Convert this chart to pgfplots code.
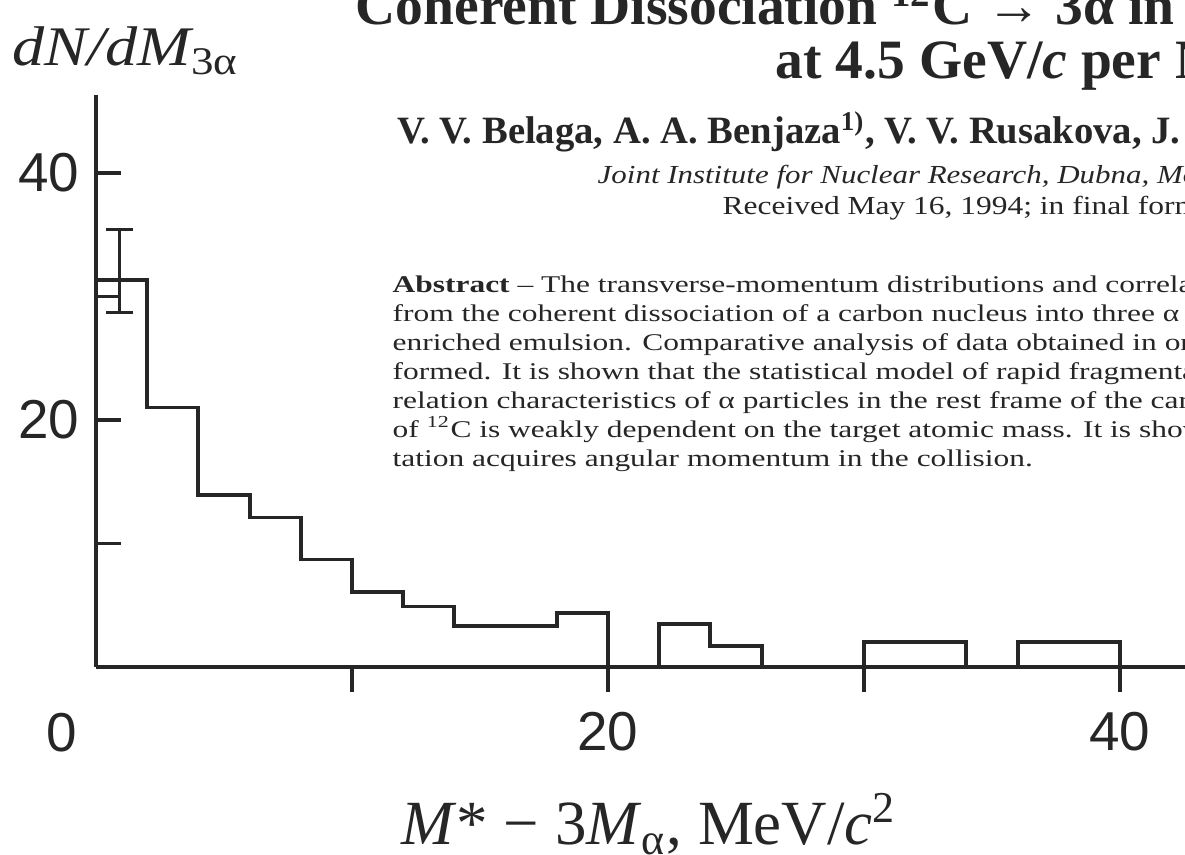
\documentclass[border=0pt]{standalone}
\usepackage{fontspec}
\usepackage{pgfplots}
\pgfplotsset{compat=1.18}

\setmainfont{Liberation Serif}
\newfontfamily\ticksfont{Liberation Sans}
\newfontfamily\ylabfont{Liberation Serif}[FakeStretch=1.15]
\newfontfamily\affilfont{Liberation Serif}[FakeStretch=1.19]
\newfontfamily\recvfont{Liberation Serif}[FakeStretch=1.21]
\newfontfamily\absfont{Liberation Serif}[FakeStretch=1.31]

\definecolor{ink}{gray}{0.15}

\begin{document}
\begin{tikzpicture}
\useasboundingbox (0,0) rectangle (118.5mm,-85.5mm);
\clip (0,0) rectangle (118.5mm,-85.5mm);
\fill[white] (0,0) rectangle (118.5mm,-85.5mm);

% paper header printed over the figure (positions in 0.1 mm units, y downwards)
\begin{scope}[x=0.1mm,y=-0.1mm,every node/.style={inner sep=0pt,anchor=base west,text=ink}]
\node at (355,25) {\fontsize{15.8}{17}\selectfont\bfseries Coherent Dissociation \textsuperscript{12}C → 3α in Lead-Enriched Emulsion};
\node at (775,79) {\fontsize{15.8}{17}\selectfont\bfseries at 4.5 GeV/\textit{c} per Nucleon};
\node at (397,144) {\fontsize{11}{12}\selectfont\bfseries V. V. Belaga, A. A. Benjaza\textsuperscript{1)}, V. V. Rusakova, J. Salomov, G. M. Chernov};
\node at (597,184) {\affilfont\fontsize{7.4}{9}\selectfont\itshape Joint Institute for Nuclear Research, Dubna, Moscow oblast, 141980 Russia};
\node at (722,215) {\recvfont\fontsize{7.4}{9}\selectfont Received May 16, 1994; in final form, December 21, 1994};
\node at (392,293) {\absfont\fontsize{6.83}{8}\selectfont\textbf{Abstract} – The transverse-momentum distributions and correlations of α particles};
\node at (392,322) {\absfont\fontsize{6.83}{8}\selectfont from the coherent dissociation of a carbon nucleus into three α particles in lead-};
\node at (392,351) {\absfont\fontsize{6.83}{8}\selectfont enriched emulsion. Comparative analysis of data obtained in ordinary emulsion is per-};
\node at (392,380) {\absfont\fontsize{6.83}{8}\selectfont formed. It is shown that the statistical model of rapid fragmentation describes the cor-};
\node at (392,409) {\absfont\fontsize{6.83}{8}\selectfont relation characteristics of α particles in the rest frame of the carbon nucleus. The excitation};
\node at (392,438) {\absfont\fontsize{6.83}{8}\selectfont of \textsuperscript{12}C is weakly dependent on the target atomic mass. It is shown that the exci-};
\node at (392,467) {\absfont\fontsize{6.83}{8}\selectfont tation acquires angular momentum in the collision.};
\end{scope}

% x axis with the histogram
\begin{axis}[
  at={(9.6mm,-66.7mm)}, anchor=south west,
  scale only axis, width=108.9mm, height=57.2mm,
  xmin=0, xmax=42.54, ymin=0, ymax=46.3,
  axis x line*=bottom, axis y line=none,
  every outer x axis line/.append style={-},
  axis line style={-, line width=1.1pt, ink},
  tick align=outside, major tick length=2.5mm,
  tick style={line width=1pt, ink},
  xtick={10,20,30,40}, xticklabels={,20,,40},
  extra x ticks={0}, extra x tick labels={0},
  extra x tick style={major tick length=0pt, xticklabel style={xshift=-3.4mm, yshift=-2.6mm}},
  xticklabel style={font=\ticksfont\fontsize{15.6}{18}\selectfont, text=ink, anchor=north, inner sep=0pt, yshift=-2.0mm},
  xlabel={\fontsize{17.9}{20}\selectfont\textit{M}* − 3\textit{M}\textsubscript{α}, MeV/\textit{c}\textsuperscript{2}},
  every axis x label/.style={at={(axis cs:11.9,-14.4)}, anchor=base west, inner sep=0pt, text=ink},
  clip=false,
]
% histogram, bins of 2 MeV/c^2
\addplot[const plot, line width=1.1pt, ink] coordinates {
  (0,31.3) (2,21.0) (4,13.9) (6,12.1) (8,8.7) (10,6.1) (12,4.9) (14,3.3)
  (16,3.3) (18,4.4) (20,0) (22,3.5) (24,1.7) (26,0) (28,0) (30,2.0)
  (32,2.0) (34,0) (36,2.0) (38,2.0) (40,0)
};
% statistical error of the first bin
\addplot[ink, mark=none, forget plot,
  error bars/.cd, y dir=both, y explicit,
  error bar style={line width=1pt, ink},
  error mark options={rotate=90, mark size=1.35mm, line width=1pt, ink}]
  coordinates {(0.92,31.3) += (0,4.1) -= (0,2.6)};
\end{axis}

% y axis with inward ticks
\begin{axis}[
  at={(9.6mm,-66.7mm)}, anchor=south west,
  scale only axis, width=108.9mm, height=57.2mm,
  xmin=0, xmax=42.54, ymin=0, ymax=46.3,
  axis x line=none, axis y line*=left,
  every outer y axis line/.append style={-},
  axis line style={-, line width=1.1pt, ink},
  tick align=inside, major tick length=2.5mm,
  tick style={line width=1pt, ink},
  xtick=\empty,
  ytick={10,20,30,40}, yticklabels={,20,,40},
  yticklabel style={font=\ticksfont\fontsize{15.6}{18}\selectfont, text=ink, anchor=east, inner sep=0pt, xshift=-1.6mm},
  ylabel={\ylabfont\fontsize{15.9}{18}\selectfont\itshape dN/dM\textsubscript{\upshape 3α}},
  every axis y label/.style={at={(axis cs:-3.28,48.7)}, anchor=base west, inner sep=0pt, text=ink},
  clip=false,
]
\end{axis}
\end{tikzpicture}
\end{document}
